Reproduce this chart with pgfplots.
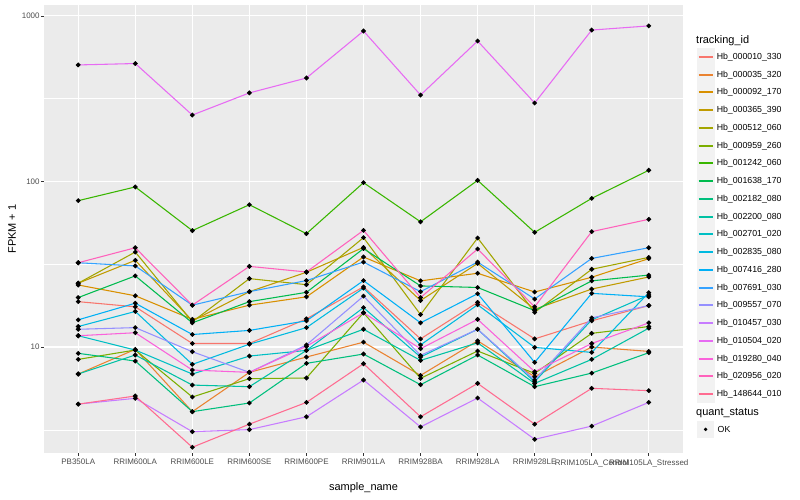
\documentclass[border=0pt]{standalone}
\usepackage{pgfplots}
\usepackage{pgfplotstable}
\pgfplotsset{compat=1.18}
\usepackage{fontspec}
\setmainfont{Liberation Sans}

\definecolor{panel}{HTML}{EBEBEB}
\definecolor{keybg}{HTML}{F2F2F2}
\definecolor{gray30}{HTML}{4D4D4D}
\definecolor{gray20}{HTML}{333333}
\definecolor{hueA}{HTML}{F8766D}
\definecolor{hueB}{HTML}{EA8331}
\definecolor{hueC}{HTML}{D89000}
\definecolor{hueD}{HTML}{C09B00}
\definecolor{hueE}{HTML}{A3A500}
\definecolor{hueF}{HTML}{7CAE00}
\definecolor{hueG}{HTML}{39B600}
\definecolor{hueH}{HTML}{00BB4E}
\definecolor{hueI}{HTML}{00BF7D}
\definecolor{hueJ}{HTML}{00C1A3}
\definecolor{hueK}{HTML}{00BFC4}
\definecolor{hueL}{HTML}{00BAE0}
\definecolor{hueM}{HTML}{00B0F6}
\definecolor{hueN}{HTML}{35A2FF}
\definecolor{hueO}{HTML}{9590FF}
\definecolor{hueP}{HTML}{C77CFF}
\definecolor{hueQ}{HTML}{E76BF3}
\definecolor{hueR}{HTML}{FA62DB}
\definecolor{hueS}{HTML}{FF62BC}
\definecolor{hueT}{HTML}{FF6C91}

% FPKM + 1 per sample (x = sample index), one column per tracking_id
\pgfplotstableread{
x  s1   s2   s3   s4   s5   s6   s7    s8   s9   s10  s11  s12  s13  s14  s15  s16  s17 s18  s19  s20
0  18.8 6.87 23.7 24.3 24.3 8.42 76.6  19.9 9.16 6.87 11.7 13.3 14.6 32.3 12.8 4.52 506 11.7 32.3 4.52
1  17.5 9.68 20.4 33.4 37.5 9.59 92.7  26.9 8.23 8.95 9.59 16.4 18.4 30.9 13.1 4.90 516 12.2 39.8 5.06
2  10.5 4.07 14.7 14.4 14.2 4.99 50.5  14.0 4.07 5.89 6.87 7.86 11.9 17.9 9.37 3.08 252 7.26 17.9 2.48
3  10.5 7.03 17.9 21.6 25.9 6.44 72.4  18.8 4.59 5.76 8.82 10.4 12.6 21.6 7.03 3.17 343 7.03 30.7 3.42
4  14.8 8.70 20.1 28.3 23.8 6.50 48.4  21.4 7.97 9.54 9.54 13.1 14.4 25.2 10.3 3.79 422 10.1 28.4 4.63
5  23.1 10.7 35.0 40.0 45.8 16.1 98.4  39.3 9.07 12.8 17.3 22.7 25.2 32.6 20.3 6.32 811 16.1 50.7 7.93
6  11.2 6.74 25.1 19.1 15.7 6.47 57.1  23.4 5.92 8.30 8.70 10.3 14.0 21.6 8.90 3.29 333 9.77 19.9 3.79
7  18.6 10.9 27.9 32.0 45.6 9.46 101.6 22.9 8.95 10.6 12.8 18.0 21.0 32.6 12.8 4.92 706 14.7 39.1 6.03
8  11.2 6.62 21.5 16.9 16.2 6.93 49.3  16.6 5.76 6.03 6.17 9.95 8.08 19.5 6.32 2.77 298 7.10 17.5 3.42
9  14.4 10.0 26.4 22.4 29.5 12.1 79.1  25.1 6.96 8.42 14.6 9.28 21.1 34.3 15.0 3.33 822 10.5 49.8 5.63
10 17.8 9.41 34.2 26.5 34.8 13.3 116.9 27.2 9.24 13.0 20.6 21.3 20.1 39.8 17.8 4.63 871 14.0 59.1 5.45
}\fpkm

\begin{document}
\begin{tikzpicture}[x=1bp,y=1bp]
\useasboundingbox (0,0) rectangle (800,500);
\begin{axis}[
    at={(44bp,47bp)}, anchor=south west,
    scale only axis, width=639bp, height=448bp,
    xmin=-0.6, xmax=10.6,
    ymode=log, ymin=2.29, ymax=1165,
    axis background/.style={fill=panel},
    axis line style={draw=none},
    xtick={0,...,10},
    xticklabels={PB350LA,RRIM600LA,RRIM600LE,RRIM600SE,RRIM600PE,RRIM901LA,RRIM928BA,RRIM928LA,RRIM928LE,RRIM105LA\_Control,RRIM105LA\_Stressed},
    ytick={10,100,1000},
    yticklabels={10,100,1000},
    minor ytick={3.1623,31.623,316.23},
    grid=both,
    major grid style={white, line width=1.07bp},
    minor grid style={white, line width=0.53bp},
    tick align=outside,
    xtick pos=bottom, ytick pos=left,
    major tick length=2.75bp, minor tick length=0bp,
    tick style={gray20, line width=0.8bp},
    ticklabel style={font=\fontsize{8}{9}\selectfont, text=gray30},
    xticklabel style={inner sep=1.5bp, yshift=-2bp},
    yticklabel style={inner sep=1.5bp},
    xlabel={sample\_name},
    ylabel={FPKM + 1},
    label style={font=\fontsize{11}{13}\selectfont},
    xlabel style={at={(axis description cs:0.5,-0.078)}, anchor=center},
    ylabel style={at={(axis description cs:-0.050,0.5)}, anchor=center, rotate=0},
    legend style={at={(1.0219,0.904)}, anchor=north west, draw=none, fill=none,
        inner sep=0pt, outer sep=0pt, row sep=0pt,
        font=\fontsize{8.8}{10}\selectfont, cells={anchor=west}},
    legend image code/.code={
        \fill[keybg] (0.3bp,-8.34bp) rectangle (16.98bp,8.34bp);
        \draw[#1, line width=2bp] (1.5bp,0bp) -- (15.8bp,0bp);
    },
    every axis plot/.append style={line width=1.07bp, mark=none},
]
\addplot[hueA] table[x=x,y=s1]{\fpkm};  \addlegendentry{Hb\_000010\_330}
\addplot[hueB] table[x=x,y=s2]{\fpkm};  \addlegendentry{Hb\_000035\_320}
\addplot[hueC] table[x=x,y=s3]{\fpkm};  \addlegendentry{Hb\_000092\_170}
\addplot[hueD] table[x=x,y=s4]{\fpkm};  \addlegendentry{Hb\_000365\_390}
\addplot[hueE] table[x=x,y=s5]{\fpkm};  \addlegendentry{Hb\_000512\_060}
\addplot[hueF] table[x=x,y=s6]{\fpkm};  \addlegendentry{Hb\_000959\_260}
\addplot[hueG] table[x=x,y=s7]{\fpkm};  \addlegendentry{Hb\_001242\_060}
\addplot[hueH] table[x=x,y=s8]{\fpkm};  \addlegendentry{Hb\_001638\_170}
\addplot[hueI] table[x=x,y=s9]{\fpkm};  \addlegendentry{Hb\_002182\_080}
\addplot[hueJ] table[x=x,y=s10]{\fpkm}; \addlegendentry{Hb\_002200\_080}
\addplot[hueK] table[x=x,y=s11]{\fpkm}; \addlegendentry{Hb\_002701\_020}
\addplot[hueL] table[x=x,y=s12]{\fpkm}; \addlegendentry{Hb\_002835\_080}
\addplot[hueM] table[x=x,y=s13]{\fpkm}; \addlegendentry{Hb\_007416\_280}
\addplot[hueN] table[x=x,y=s14]{\fpkm}; \addlegendentry{Hb\_007691\_030}
\addplot[hueO] table[x=x,y=s15]{\fpkm}; \addlegendentry{Hb\_009557\_070}
\addplot[hueP] table[x=x,y=s16]{\fpkm}; \addlegendentry{Hb\_010457\_030}
\addplot[hueQ] table[x=x,y=s17]{\fpkm}; \addlegendentry{Hb\_010504\_020}
\addplot[hueR] table[x=x,y=s18]{\fpkm}; \addlegendentry{Hb\_019280\_040}
\addplot[hueS] table[x=x,y=s19]{\fpkm}; \addlegendentry{Hb\_020956\_020}
\addplot[hueT] table[x=x,y=s20]{\fpkm}; \addlegendentry{Hb\_148644\_010}
% points on top of all lines
\pgfplotsinvokeforeach{1,...,20}{
  \addplot[only marks, mark=*, mark size=1.8bp, black, forget plot] table[x=x,y=s#1]{\fpkm};
}
\end{axis}
% legend titles and the quant_status key
\node[anchor=west, inner sep=0pt, font=\fontsize{11}{13}\selectfont] at (696,459.5) {tracking\_id};
\node[anchor=west, inner sep=0pt, font=\fontsize{11}{13}\selectfont] at (696,87) {quant\_status};
\fill[keybg] (697.3,62.3) rectangle (713.98,78.98);
\fill[black] (705.64,70.64) circle (1.8);
\node[anchor=west, inner sep=0pt, font=\fontsize{8.8}{10}\selectfont] at (717.5,70.64) {OK};
\end{tikzpicture}
\end{document}
